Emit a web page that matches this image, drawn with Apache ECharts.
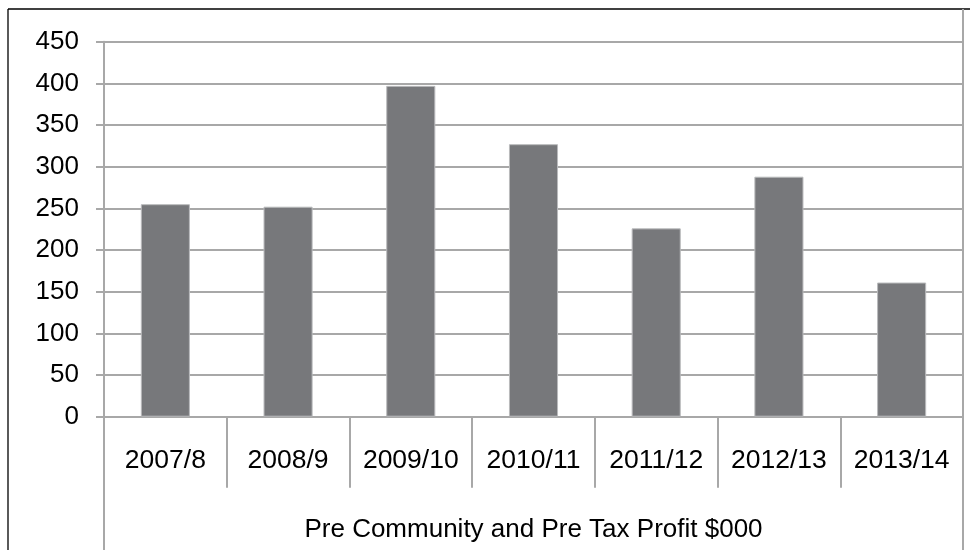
<!DOCTYPE html>
<html>
<head>
<meta charset="utf-8">
<script src="https://cdn.jsdelivr.net/npm/echarts@6/dist/echarts.min.js"></script>
<style>
  html, body { margin: 0; padding: 0; background: #ffffff; }
  #chart { width: 977px; height: 550px; }
</style>
</head>
<body>
<div id="chart"></div>
<script>
// Financial years and pre-community, pre-tax profit ($000)
const years = ['2007/8', '2008/9', '2009/10', '2010/11', '2011/12', '2012/13', '2013/14'];
const profit = [255, 252, 397, 327, 226, 288, 161];
const axisTitle = 'Pre Community and Pre Tax Profit $000';

const FONT = '"Liberation Sans", Arial, sans-serif';
const GRID_GRAY = '#a8a8a8';
const BAR_GRAY = '#77787b';

const chart = echarts.init(document.getElementById('chart'), null, { renderer: 'canvas' });

chart.setOption({
  animation: false,
  backgroundColor: '#ffffff',
  grid: { left: 104, right: 14, top: 41.7, bottom: 133.3, containLabel: false },
  xAxis: {
    type: 'category',
    data: years,
    name: axisTitle,
    nameLocation: 'middle',
    nameGap: 100,
    nameTextStyle: { fontFamily: FONT, fontSize: 26, color: '#000' },
    axisLine: { show: true, lineStyle: { color: GRID_GRAY, width: 2 } },
    axisTick: { show: true, alignWithLabel: false, length: 71, lineStyle: { color: GRID_GRAY, width: 2 } },
    axisLabel: { fontFamily: FONT, fontSize: 26.5, color: '#000', margin: 30, interval: 0 },
    splitLine: { show: false }
  },
  yAxis: {
    type: 'value',
    min: 0,
    max: 450,
    interval: 50,
    axisLine: { show: true, lineStyle: { color: GRID_GRAY, width: 2 } },
    axisTick: { show: true, length: 8, lineStyle: { color: GRID_GRAY, width: 2 } },
    axisLabel: { fontFamily: FONT, fontSize: 26, color: '#000', margin: 25 },
    splitLine: { show: true, lineStyle: { color: GRID_GRAY, width: 2 } }
  },
  series: [{
    type: 'bar',
    data: profit,
    barWidth: '40%',
    itemStyle: { color: BAR_GRAY, borderColor: '#b9babc', borderWidth: 1 }
  }],
  graphic: [
    // outer frame: black top and left edges
    { type: 'line', shape: { x1: 8, y1: 9, x2: 970, y2: 9 }, style: { stroke: '#000', lineWidth: 1.3 } },
    { type: 'line', shape: { x1: 8, y1: 9, x2: 8, y2: 550 }, style: { stroke: '#000', lineWidth: 1.3 } },
    // value axis line continues down past the category labels
    { type: 'line', shape: { x1: 104, y1: 416, x2: 104, y2: 550 }, style: { stroke: GRID_GRAY, lineWidth: 2 } },
    // right edge of the plot runs the full height
    { type: 'line', shape: { x1: 963, y1: 9, x2: 963, y2: 550 }, style: { stroke: GRID_GRAY, lineWidth: 2 } }
  ]
});
</script>
</body>
</html>
